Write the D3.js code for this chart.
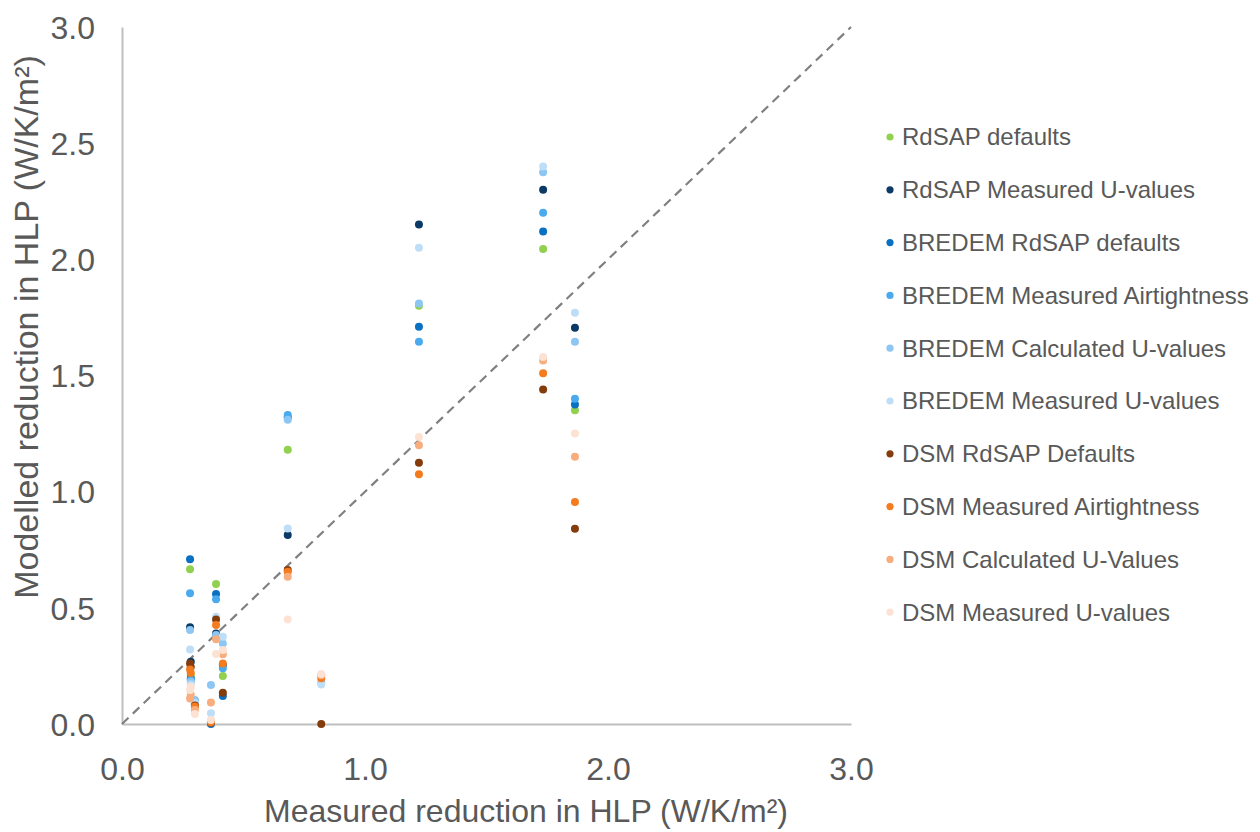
<!DOCTYPE html>
<html>
<head>
<meta charset="utf-8">
<script src="https://cdn.jsdelivr.net/npm/d3@7"></script>
<style>
  body { margin: 0; background: #fff; }
  svg { display: block; font-family: "Liberation Sans", Arial, sans-serif; }
</style>
</head>
<body>
<svg id="chart" width="1260" height="832"></svg>
<script>
// measured reduction per dwelling (x)
const measured = [0.28, 0.283, 0.30, 0.366, 0.387, 0.415, 0.682, 0.82, 1.222, 1.733, 1.864];

const seriesNames = [
  "RdSAP defaults",
  "RdSAP Measured U-values",
  "BREDEM RdSAP defaults",
  "BREDEM Measured Airtightness",
  "BREDEM Calculated U-values",
  "BREDEM Measured U-values",
  "DSM RdSAP Defaults",
  "DSM Measured Airtightness",
  "DSM Calculated U-Values",
  "DSM Measured U-values"
];

const seriesColors = ["#92D050", "#0B3A66", "#0A70C2", "#4BA9EE", "#8DC6F2", "#BEDEF8",
                      "#843C0C", "#F57B1F", "#F8AD7E", "#FCE2D2"];

// modelled reduction, one value per dwelling (null = no point)
const rdsapDefaults      = [0.666, 0.211, 0.09, 0.01, 0.603, 0.207, 1.18, null, 1.80, 2.045, 1.35];
const rdsapMeasuredU     = [0.416, 0.268, 0.085, 0.01, 0.39, 0.254, 0.814, null, 2.15, 2.30, 1.705];
const bredemDefaults     = [0.709, 0.197, 0.095, 0.0, 0.56, 0.12, 1.32, null, 1.71, 2.12, 1.375];
const bredemAirtight     = [0.563, 0.19, 0.10, 0.005, 0.537, 0.24, 1.33, null, 1.645, 2.20, 1.40];
const bredemCalcU        = [0.405, 0.182, 0.103, 0.168, 0.383, 0.347, 1.31, 0.18, 1.81, 2.375, 1.645];
const bredemMeasU        = [0.321, 0.17, 0.09, 0.046, 0.462, 0.376, 0.842, 0.17, 2.05, 2.40, 1.77];
const dsmDefaults        = [0.26, 0.245, 0.08, 0.005, 0.45, 0.135, 0.663, 0.0, 1.125, 1.44, 0.84];
const dsmAirtight        = [0.235, 0.22, 0.075, 0.007, 0.426, 0.26, 0.655, 0.197, 1.075, 1.51, 0.955];
const dsmCalcU           = [0.11, 0.125, 0.06, 0.093, 0.365, 0.30, 0.634, 0.21, 1.20, 1.565, 1.15];
const dsmMeasU           = [0.146, 0.16, 0.043, 0.017, 0.301, 0.318, 0.45, 0.215, 1.235, 1.58, 1.25];

const seriesValues = [rdsapDefaults, rdsapMeasuredU, bredemDefaults, bredemAirtight, bredemCalcU,
                      bredemMeasU, dsmDefaults, dsmAirtight, dsmCalcU, dsmMeasU];

const axisTicks = [0, 1, 2, 3];
const yTicks = [0, 0.5, 1, 1.5, 2, 2.5, 3];

const svg = d3.select("#chart");
const textColor = "#595959";

const x = d3.scaleLinear().domain([0, 3]).range([122, 851]);
const y = d3.scaleLinear().domain([0, 3]).range([724, 27]);

// axes
const xAxis = svg.append("g")
  .attr("transform", `translate(0,${y(0)})`)
  .call(d3.axisBottom(x).tickValues(axisTicks).tickFormat(d3.format(".1f")).tickSize(0).tickPadding(33));

const yAxis = svg.append("g")
  .attr("transform", `translate(${x(0)},0)`)
  .call(d3.axisLeft(y).tickValues(yTicks).tickFormat(d3.format(".1f")).tickSize(0).tickPadding(27));

[xAxis, yAxis].forEach(g => {
  g.select(".domain").attr("stroke", "#BFBFBF").attr("stroke-width", 2);
  g.selectAll("text").attr("fill", textColor).attr("font-size", 32)
    .attr("font-family", "Liberation Sans, Arial, sans-serif");
});
yAxis.selectAll("text").attr("dy", "0.35em");

// 1:1 line
svg.append("line")
  .attr("x1", x(0)).attr("y1", y(0))
  .attr("x2", x(3)).attr("y2", y(3))
  .attr("stroke", "#808080")
  .attr("stroke-width", 2.2)
  .attr("stroke-dasharray", "9,6");

// points
seriesValues.forEach((vals, i) => {
  const pts = measured.map((m, j) => [m, vals[j]]).filter(d => d[1] !== null);
  svg.append("g")
    .selectAll("circle")
    .data(pts)
    .enter()
    .append("circle")
    .attr("cx", d => x(d[0]))
    .attr("cy", d => y(d[1]))
    .attr("r", 4)
    .attr("fill", seriesColors[i]);
});

// axis titles
svg.append("text")
  .attr("x", 526)
  .attr("y", 822)
  .attr("text-anchor", "middle")
  .attr("fill", textColor)
  .attr("font-size", 32)
  .text("Measured reduction in HLP (W/K/m²)");

svg.append("text")
  .attr("transform", `translate(38,327) rotate(-90)`)
  .attr("text-anchor", "middle")
  .attr("fill", textColor)
  .attr("font-size", 34)
  .text("Modelled reduction in HLP (W/K/m²)");

// legend
const legend = svg.append("g")
  .selectAll("g")
  .data(seriesNames)
  .enter()
  .append("g")
  .attr("transform", (d, i) => `translate(890,${137 + i * 52.8})`);

legend.append("circle")
  .attr("r", 3.6)
  .attr("fill", (d, i) => seriesColors[i]);

legend.append("text")
  .attr("x", 12)
  .attr("dy", "0.35em")
  .attr("fill", textColor)
  .attr("font-size", 24)
  .text(d => d);
</script>
</body>
</html>
